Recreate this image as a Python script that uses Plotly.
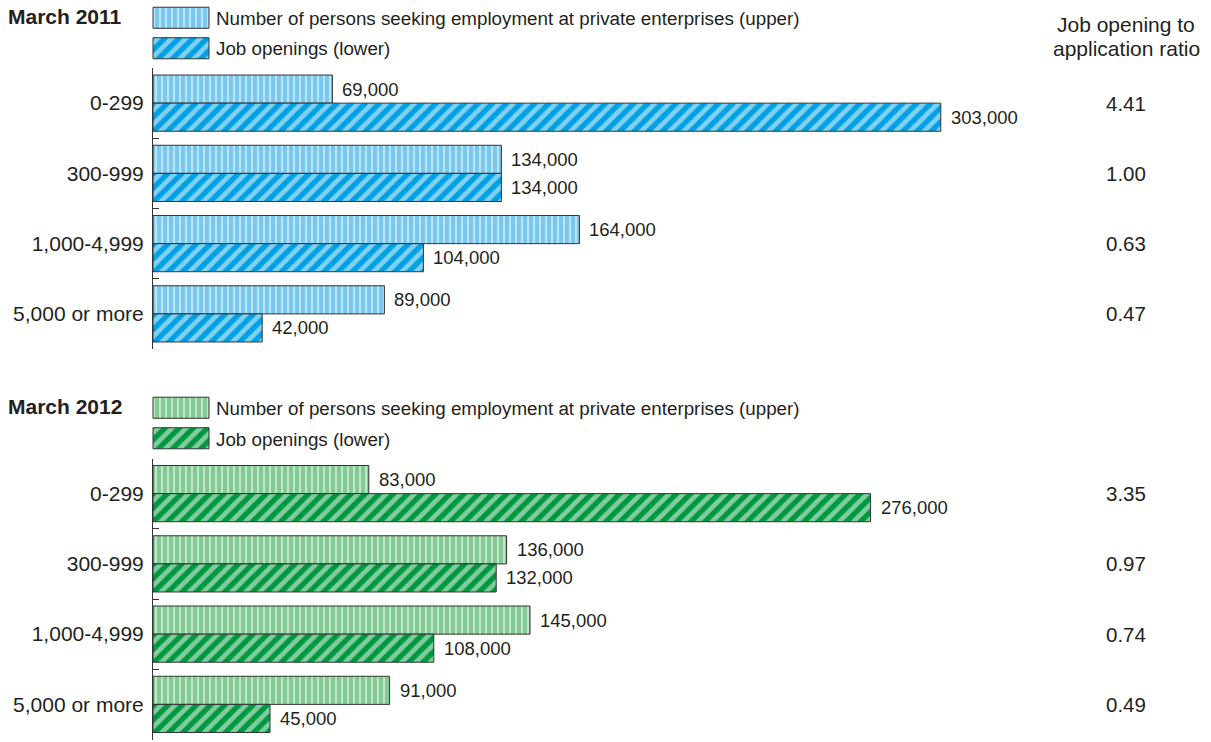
import plotly.graph_objects as go

# Firm size categories (number of employees)
categories = ["0-299", "300-999", "1,000-4,999", "5,000 or more"]

# March 2011
seekers_2011 = [69000, 134000, 164000, 89000]
openings_2011 = [303000, 134000, 104000, 42000]
ratio_2011 = [4.41, 1.00, 0.63, 0.47]

# March 2012
seekers_2012 = [83000, 136000, 145000, 91000]
openings_2012 = [276000, 132000, 108000, 45000]
ratio_2012 = [3.35, 0.97, 0.74, 0.49]

panel_titles = ["March 2011", "March 2012"]
series_names = [
    "Number of persons seeking employment at private enterprises (upper)",
    "Job openings (lower)",
]
ratio_header = ["Job opening to", "application ratio"]

W, H = 1211, 742
FONT = "Liberation Sans, Arial, Helvetica, sans-serif"
INK = "#231f20"
OUTLINE = "#333333"

palettes = [
    {"light": "#78c8ef", "dark": "#00a0e3"},
    {"light": "#82ca93", "dark": "#00983f"},
]

# pixel layout helpers
def px_x(p):
    return p / W


def px_y(p):
    return 1 - p / H


panel_top = [68, 458.5]
panel_h = 281
legend_top = [2.5, 392.5]
legend_h = 61
x_left = 153
px_per_unit = 0.0026
x_max = (W - x_left) / px_per_unit

fig = go.Figure()


def stripes(color):
    return dict(shape="|", bgcolor=color, fgcolor="white", size=6,
                solidity=0.35, fillmode="overlay")


def hatch(color):
    return dict(shape="/", bgcolor=color, fgcolor="white", size=10,
                solidity=0.48, fillmode="overlay")


data_sets = [
    (seekers_2011, openings_2011, ratio_2011),
    (seekers_2012, openings_2012, ratio_2012),
]

annotations = []
layout_axes = {}

for i, (seekers, openings, ratios) in enumerate(data_sets):
    pal = palettes[i]
    xa = "x" if i == 0 else f"x{i + 1}"
    ya = "y" if i == 0 else f"y{i + 1}"
    xkey = "xaxis" if i == 0 else f"xaxis{i + 1}"
    ykey = "yaxis" if i == 0 else f"yaxis{i + 1}"

    fig.add_trace(go.Bar(
        x=seekers, y=categories, orientation="h", xaxis=xa, yaxis=ya,
        width=0.4, offset=-0.4, showlegend=False, hoverinfo="skip",
        marker=dict(color=pal["light"], pattern=stripes(pal["light"]),
                    line=dict(color=OUTLINE, width=1)),
    ))
    fig.add_trace(go.Bar(
        x=openings, y=categories, orientation="h", xaxis=xa, yaxis=ya,
        width=0.4, offset=0.0, showlegend=False, hoverinfo="skip",
        marker=dict(color=pal["dark"], pattern=hatch(pal["dark"]),
                    line=dict(color=OUTLINE, width=1)),
    ))

    top = panel_top[i]
    layout_axes[xkey] = dict(
        domain=[px_x(x_left), 1], range=[0, x_max], visible=False,
        anchor=ya, fixedrange=True,
    )
    layout_axes[ykey] = dict(
        domain=[px_y(top + panel_h), px_y(top)], anchor=xa,
        type="category", categoryorder="array", categoryarray=categories,
        range=[3.5, -0.5], showline=True, linecolor=OUTLINE, linewidth=1,
        ticks="inside", tickson="boundaries", ticklen=6, tickcolor=OUTLINE,
        tickwidth=1, showgrid=False, zeroline=False,
        tickfont=dict(family=FONT, size=21, color=INK),
        ticklabelstandoff=4, automargin=False, fixedrange=True,
    )

    # value labels next to each bar
    for cat, s, o in zip(categories, seekers, openings):
        for v, shift in ((s, 14), (o, -14)):
            annotations.append(dict(
                x=v, y=cat, xref=xa, yref=ya, text=f"{v:,}",
                showarrow=False, xanchor="left", yanchor="middle",
                xshift=8, yshift=shift,
                font=dict(family=FONT, size=18.5, color=INK),
            ))

    # ratio column
    for cat, r in zip(categories, ratios):
        annotations.append(dict(
            x=px_x(1126), y=cat, xref="paper", yref=ya, text=f"{r:.2f}",
            showarrow=False, xanchor="center", yanchor="middle",
            font=dict(family=FONT, size=20.5, color=INK),
        ))

    # panel title
    annotations.append(dict(
        x=px_x(6), y=px_y(legend_top[i] + 13.5), xref="paper", yref="paper",
        text=f"<b>{panel_titles[i]}</b>", showarrow=False,
        xanchor="left", yanchor="middle",
        font=dict(family=FONT, size=21, color=INK),
    ))

    # legend keys drawn as bars on their own small axes
    lx = f"x{i + 3}"
    ly = f"y{i + 3}"
    lxkey = f"xaxis{i + 3}"
    lykey = f"yaxis{i + 3}"
    key_rows = ["upper", "lower"]
    key_len = [1]
    fig.add_trace(go.Bar(
        x=key_len, y=[key_rows[0]], orientation="h", xaxis=lx, yaxis=ly,
        width=0.69, offset=-0.345, showlegend=False, hoverinfo="skip",
        marker=dict(color=pal["light"], pattern=stripes(pal["light"]),
                    line=dict(color=OUTLINE, width=1)),
    ))
    fig.add_trace(go.Bar(
        x=key_len, y=[key_rows[1]], orientation="h", xaxis=lx, yaxis=ly,
        width=0.69, offset=-0.345, showlegend=False, hoverinfo="skip",
        marker=dict(color=pal["dark"], pattern=hatch(pal["dark"]),
                    line=dict(color=OUTLINE, width=1)),
    ))
    lt = legend_top[i]
    layout_axes[lxkey] = dict(
        domain=[px_x(151), px_x(211)], range=[-0.036, 1.036], visible=False,
        anchor=ly, fixedrange=True,
    )
    layout_axes[lykey] = dict(
        domain=[px_y(lt + legend_h), px_y(lt)], anchor=lx,
        type="category", categoryorder="array", categoryarray=key_rows,
        range=[1.5, -0.5], visible=False, fixedrange=True,
    )
    for k, name in enumerate(series_names):
        annotations.append(dict(
            x=px_x(214), y=px_y(lt + 16 + 30.5 * k), xref="paper", yref="paper",
            text=name, showarrow=False, xanchor="left", yanchor="middle",
            font=dict(family=FONT, size=18.8, color=INK),
        ))

# header of the ratio column
for k, line in enumerate(ratio_header):
    annotations.append(dict(
        x=px_x(1126), y=px_y(24 + 24 * k), xref="paper", yref="paper",
        text=line, showarrow=False, xanchor="center", yanchor="middle",
        font=dict(family=FONT, size=21, color=INK),
    ))

fig.update_layout(
    width=W, height=H, margin=dict(l=0, r=0, t=0, b=0),
    paper_bgcolor="white", plot_bgcolor="rgba(0,0,0,0)",
    barmode="overlay", showlegend=False,
    annotations=annotations, **layout_axes,
)

fig.write_html("out.html", config={"displayModeBar": False})
